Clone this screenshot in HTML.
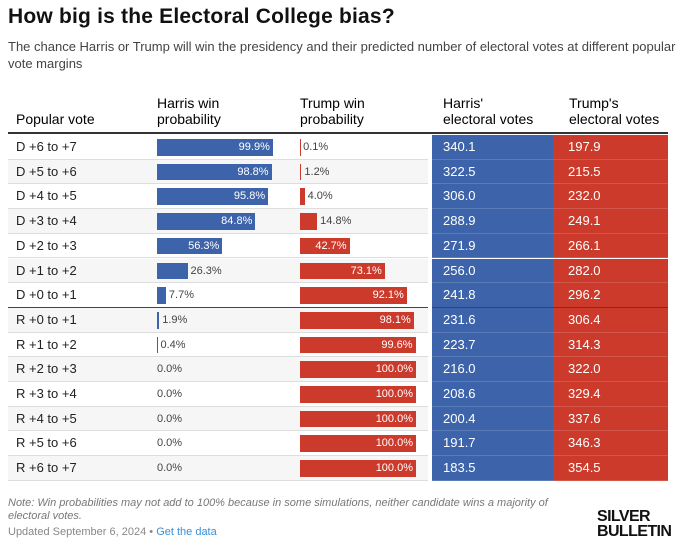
<!DOCTYPE html>
<html><head><meta charset="utf-8"><style>
body{margin:0;width:680px;height:551px;background:#fff;font-family:"Liberation Sans",Arial,sans-serif;position:relative;overflow:hidden;color:#222}
.abs{position:absolute}
</style></head><body>
<div class="abs" style="left:8px;top:5px;font-size:21px;font-weight:bold;color:#111;letter-spacing:0.2px">How big is the Electoral College bias?</div>
<div class="abs" style="left:8px;top:38px;width:672px;font-size:13px;line-height:17px;color:#444">The chance Harris or Trump will win the presidency and their predicted number of electoral votes at different popular vote margins</div>
<div class="abs" style="left:16px;top:111px;font-size:14px;color:#000">Popular vote</div>
<div class="abs" style="left:157px;top:95px;font-size:14px;line-height:16px;color:#000">Harris win<br>probability</div>
<div class="abs" style="left:300px;top:95px;font-size:14px;line-height:16px;color:#000">Trump win<br>probability</div>
<div class="abs" style="left:443px;top:95px;font-size:14px;line-height:16px;color:#000">Harris'<br>electoral votes</div>
<div class="abs" style="left:569px;top:95px;font-size:14px;line-height:16px;color:#000">Trump's<br>electoral votes</div>
<div class="abs" style="left:8px;top:132px;width:660px;height:2px;background:#333"></div>
<div id="rows"></div>
<div class="abs" style="left:8px;top:497px;width:570px;font-size:11px;line-height:13px;font-style:italic;color:#777">Note: Win probabilities may not add to 100% because in some simulations, neither candidate wins a majority of electoral votes.</div>
<div class="abs" style="left:8px;top:526px;font-size:11px;color:#888">Updated September 6, 2024 • <span style="color:#3a8fd8">Get the data</span></div>
<div class="abs" style="left:597px;top:509px;font-size:16px;line-height:15px;font-weight:bold;color:#111;letter-spacing:-0.6px">SILVER<br>BULLETIN</div>
<script>
const labels=["D +6 to +7","D +5 to +6","D +4 to +5","D +3 to +4","D +2 to +3","D +1 to +2","D +0 to +1","R +0 to +1","R +1 to +2","R +2 to +3","R +3 to +4","R +4 to +5","R +5 to +6","R +6 to +7"];
const harrisProb=[99.9,98.8,95.8,84.8,56.3,26.3,7.7,1.9,0.4,0,0,0,0,0];
const trumpProb=[0.1,1.2,4.0,14.8,42.7,73.1,92.1,98.1,99.6,100,100,100,100,100];
const harrisEV=[340.1,322.5,306.0,288.9,271.9,256.0,241.8,231.6,223.7,216.0,208.6,200.4,191.7,183.5];
const trumpEV=[197.9,215.5,232.0,249.1,266.1,282.0,296.2,306.4,314.3,322.0,329.4,337.6,346.3,354.5];
const BLUE="#3d64aa",RED="#cb3a2b";
const top0=135,rh=24.7,barW=116;
const c=document.getElementById('rows');
function mk(css,txt){const d=document.createElement('div');d.className='abs';d.style.cssText=css;if(txt!==undefined)d.textContent=txt;c.appendChild(d);return d;}
function bar(x,y,v,col,name){
  const w=v/100*barW;
  if(v>0){const b=mk(`left:${x}px;top:${y+4}px;width:${Math.max(w,1)}px;height:${rh-8}px;background:${col}`);
  
  }
  const t=v.toFixed(1)+'%';
  let l;
  if(v>=35){l=mk(`left:${x}px;top:${y}px;width:${w-3}px;line-height:${rh}px;font-size:11px;color:#fff;text-align:right`,t);}
  else{l=mk(`left:${x+(v>0?w+3:0)}px;top:${y}px;line-height:${rh}px;font-size:11px;color:#444`,t);}
  
  
}
labels.forEach((lab,i)=>{
  const y=top0+i*rh;
  const bg=mk(`left:8px;top:${y}px;width:420px;height:${rh}px;background:${i%2?'#f6f6f6':'#fff'};border-bottom:1px solid ${i==6?'#444':'#ddd'};box-sizing:border-box`);
  
  
  const l=mk(`left:16px;top:${y}px;line-height:${rh}px;font-size:13px;color:#222`,lab);
  
  
  bar(157,y,harrisProb[i],BLUE,'harris-prob-bar');
  bar(300,y,trumpProb[i],RED,'trump-prob-bar');
  const h=mk(`left:432px;top:${y}px;width:121px;height:${rh}px;background:${BLUE};border-bottom:1px solid ${i==6?'#444':'rgba(255,255,255,0.15)'};box-sizing:border-box;color:#fff;font-size:13px;line-height:${rh}px;padding-left:11px`,harrisEV[i].toFixed(1));
  
  
  const t=mk(`left:553px;top:${y}px;width:115px;height:${rh}px;background:${RED};border-bottom:1px solid ${i==6?'#444':'rgba(255,255,255,0.15)'};box-sizing:border-box;color:#fff;font-size:13px;line-height:${rh}px;padding-left:15px`,trumpEV[i].toFixed(1));
  
  
});
</script>
</body></html>
